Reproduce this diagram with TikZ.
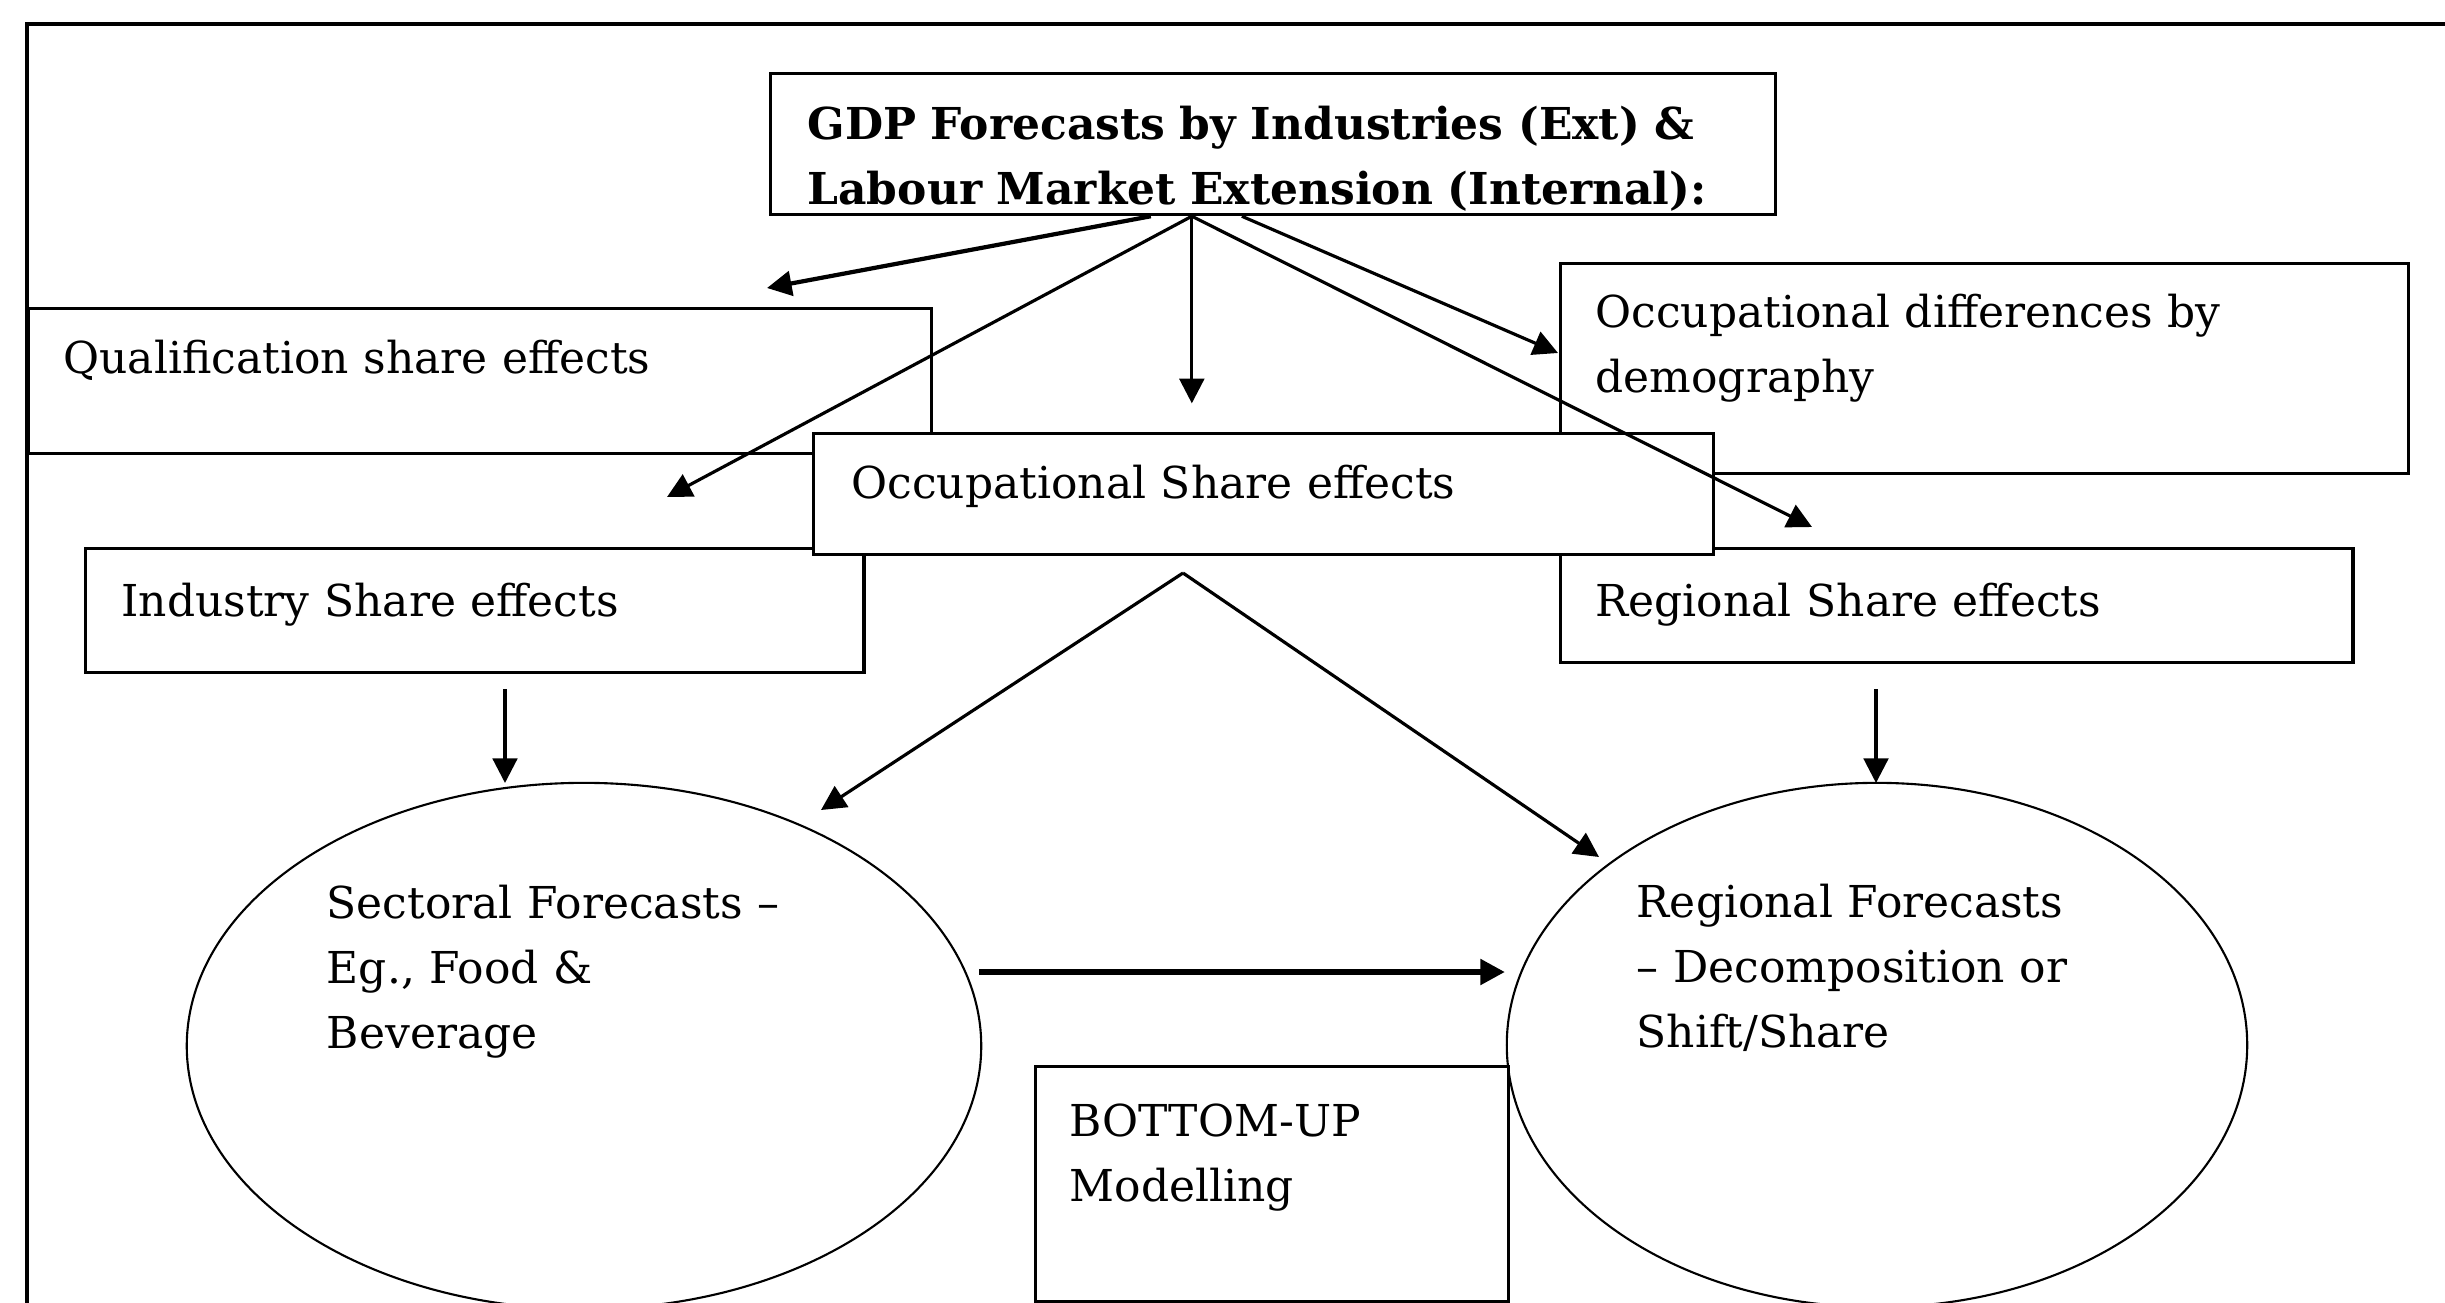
\documentclass[tikz,border=0pt]{standalone}
\usepackage{fontspec}
\setmainfont{DejaVu Serif}
\usetikzlibrary{arrows.meta,shapes.geometric}

\tikzset{
    boxfont/.style={font=\fontsize{12.5pt}{18.4pt}\selectfont},
    box/.style={boxfont, draw=black, fill=white, line width=0.9pt, rectangle,
      anchor=north west, inner xsep=0.35cm, inner ysep=0pt, align=left},
    oval/.style={boxfont, draw=black, line width=0.6pt, ellipse, inner sep=0pt,
      align=left, text height=0.5cm, text depth=3.04cm},
    flow/.style={-{Triangle[length=7pt,width=7pt]}, line width=0.9pt},
    frame/.style={line width=1.4pt}
}

\begin{document}
\begin{tikzpicture}[x=0.01cm, y=-0.01cm]
    \useasboundingbox (0,0) rectangle (2445,1303);
    \clip (0,0) rectangle (2445,1303);

    % outer frame (runs off the page on the right and at the bottom)
    \draw[frame] (27,1340) -- (27,24) -- (2480,24);

    \node[box, text width=8.32cm, text height=0.65cm, text depth=0.80cm]
      (qual) at (27,307) {Qualification share effects};
    \node[box, text width=7.77cm, text height=0.64cm, text depth=1.46cm]
      (occdiff) at (1559,262) {Occupational differences by\\demography};
    \node[box, text width=7.06cm, inner xsep=0.36cm, text height=0.68cm, text depth=0.56cm]
      (industry) at (84,547) {Industry Share effects};
    \node[box, text width=7.22cm, text height=0.68cm, text depth=0.46cm]
      (regshare) at (1559,547) {Regional Share effects};
    \node[box, text width=8.23cm, inner xsep=0.38cm, text height=0.65cm, text depth=0.56cm]
      (occ) at (812,432) {Occupational Share effects};
    \node[box, text width=9.30cm, inner xsep=0.37cm, text height=0.66cm, text depth=0.75cm,
      font=\fontsize{12.5pt}{18.4pt}\selectfont\bfseries]
      (gdp) at (769,72) {GDP Forecasts by Industries (Ext) \&\\Labour Market Extension (Internal):};

    \node[oval, text width=5.14cm, minimum width=7.94cm, minimum height=5.26cm]
      (sectoral) at (584,1046) {Sectoral Forecasts --\\Eg., Food \&\\Beverage};
    \node[oval, text width=4.80cm, minimum width=7.40cm, minimum height=5.24cm]
      (regional) at (1877,1045) {Regional Forecasts\\-- Decomposition or\\Shift/Share};

    \node[box, fill=none, text width=4.05cm, inner xsep=0.34cm, text height=0.70cm, text depth=1.65cm]
      (bottomup) at (1034,1065) {BOTTOM-UP\\Modelling};

    % arrow ends
    \coordinate (gdpfootL) at ([xshift=-1.22cm]gdp.south);
    \coordinate (gdpfoot) at ([xshift=-0.81cm]gdp.south);
    \coordinate (gdpfootR) at ([xshift=-0.31cm]gdp.south);
    \coordinate (qualtip) at (767,288);
    \coordinate (indtip) at (667,497);
    \coordinate (occtip) at ([yshift=-1.87cm]gdpfoot);
    \coordinate (difftip) at (1558,353);
    \coordinate (regtip) at (1812,527);
    \coordinate (apex) at (1183,573);
    \coordinate (sectip) at (821,810);
    \coordinate (regfctip) at (1599,857);
    \coordinate (indfoot) at (505,689);
    \coordinate (indend) at (505,783);
    \coordinate (regfoot) at (1876,689);
    \coordinate (regend) at (1876,783);
    \coordinate (secout) at (979,972);
    \coordinate (regin) at (1505,972);

    \draw[flow, line width=1.2pt] (gdpfootL) -- (qualtip);
    \draw[flow] (gdpfoot) -- (indtip);
    \draw[flow] (gdpfoot) -- (occtip);
    \draw[flow] (gdpfootR) -- (difftip);
    \draw[flow] (gdpfoot) -- (regtip);

    \draw[flow] (apex) -- (sectip);
    \draw[flow] (apex) -- (regfctip);

    \draw[flow] (indfoot) -- (indend);
    \draw[flow] (regfoot) -- (regend);
    \draw[flow, line width=1.8pt] (secout) -- (regin);
\end{tikzpicture}
\end{document}
